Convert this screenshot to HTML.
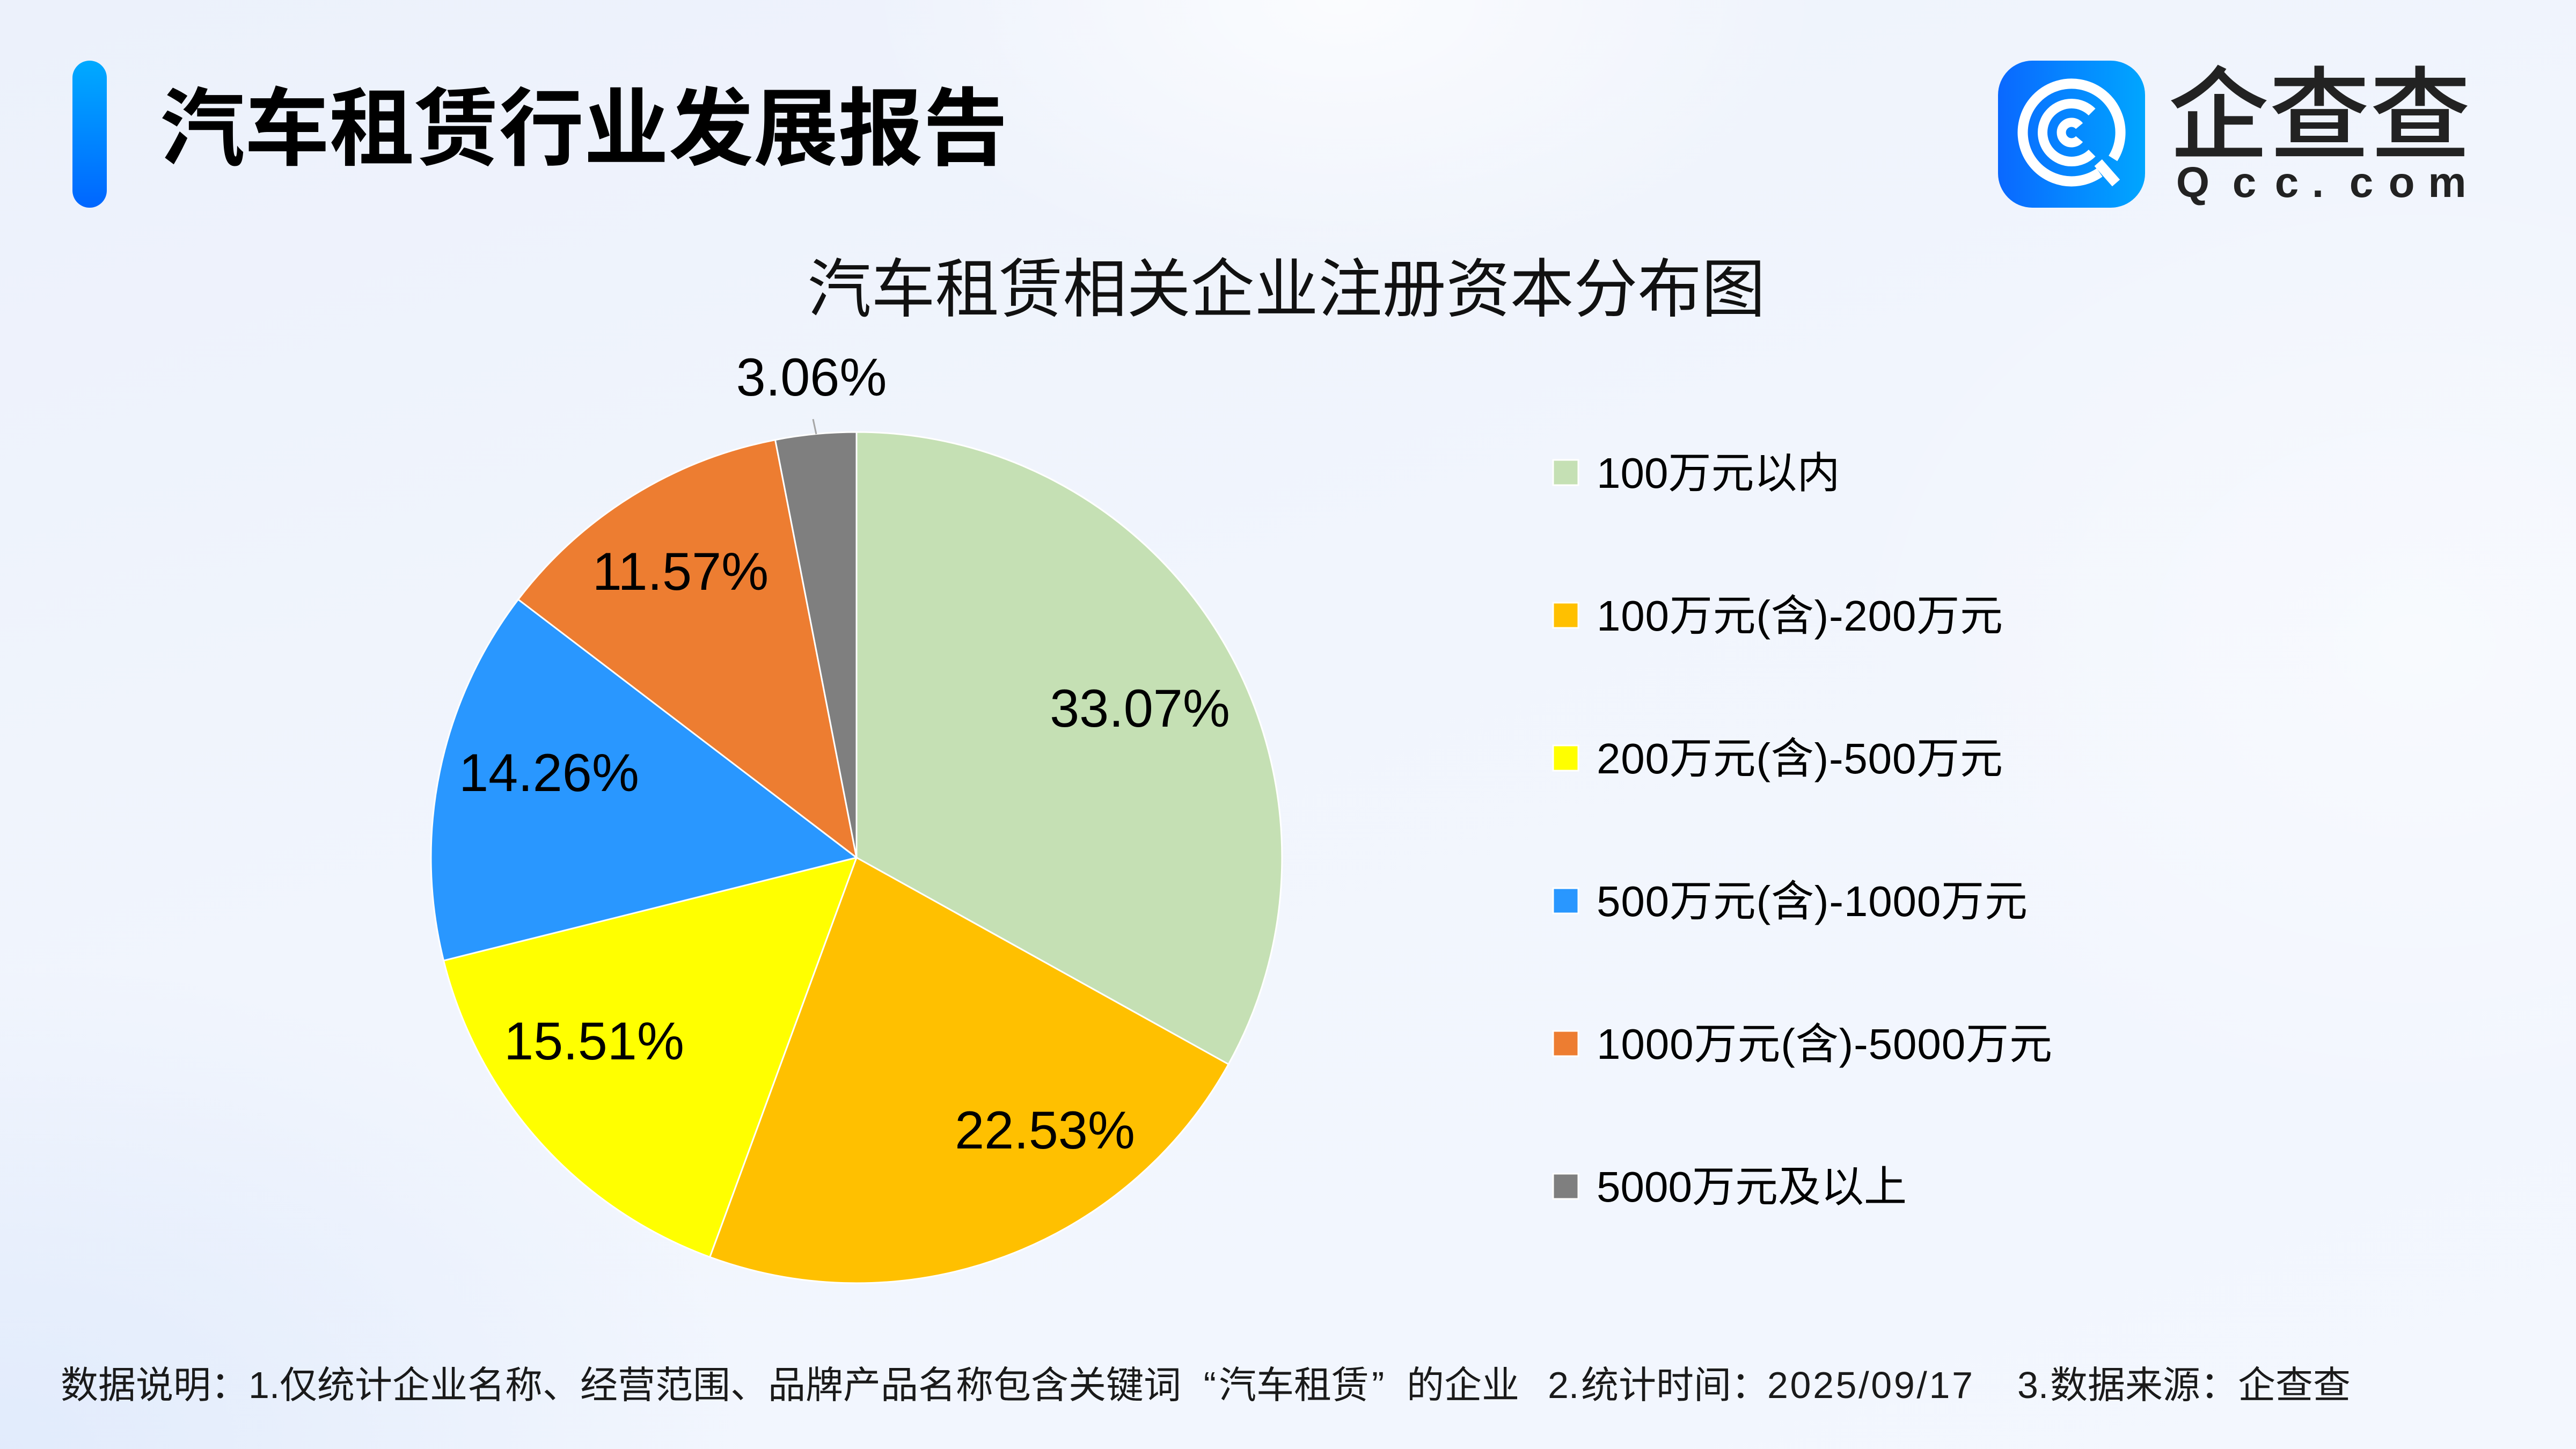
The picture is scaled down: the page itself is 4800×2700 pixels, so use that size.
<!DOCTYPE html>
<html>
<head>
<meta charset="utf-8">
<style>
  html, body { margin:0; padding:0; }
  body {
    width:4800px; height:2700px; overflow:hidden; position:relative;
    background:
      radial-gradient(ellipse 900px 520px at 2500px 0px, rgba(255,255,255,0.75), rgba(255,255,255,0) 100%),
      radial-gradient(ellipse 1100px 900px at 4500px 1200px, rgba(255,255,255,0.45), rgba(255,255,255,0) 100%),
      radial-gradient(ellipse 1400px 900px at 0px 2700px, rgba(205,222,250,0.45), rgba(205,222,250,0) 100%),
      linear-gradient(160deg, #ECF1FB 0%, #F1F5FD 45%, #F3F7FE 100%);
  }
  svg { position:absolute; left:0; top:0; }
  .cjk { font-family:"Noto Sans CJK SC","WenQuanYi Zen Hei",sans-serif; }
  .lat { font-family:"Liberation Sans","Noto Sans CJK SC",sans-serif; }
</style>
</head>
<body>
<svg width="4800" height="2700" viewBox="0 0 4800 2700" xmlns="http://www.w3.org/2000/svg">
  <defs>
    <linearGradient id="bar" x1="0" y1="0" x2="0" y2="1">
      <stop offset="0" stop-color="#00AAFF"/>
      <stop offset="1" stop-color="#0066FF"/>
    </linearGradient>
    <linearGradient id="icon" x1="0" y1="0" x2="1" y2="0">
      <stop offset="0" stop-color="#0A68FF"/>
      <stop offset="1" stop-color="#00A6FF"/>
    </linearGradient>
  </defs>

  <!-- Header -->
  <rect x="135" y="113" width="64" height="274" rx="32" ry="32" fill="url(#bar)"/>
  <text x="298" y="295" class="cjk" font-size="158" font-weight="700" fill="#000">汽车租赁行业发展报告</text>

  <!-- Logo icon -->
  <g transform="translate(3723,113)">
    <rect x="0" y="0" width="274" height="274" rx="64" ry="64" fill="url(#icon)"/>
    <path d="M189.2 208.5 A91 91 0 1 1 214.2 182.2" fill="none" stroke="#fff" stroke-width="19"/>
    <line x1="186.7" y1="190.2" x2="220" y2="228" stroke="#fff" stroke-width="19"/>
    <path d="M175.2 172.2 A54 54 0 1 1 175.2 95.8" fill="none" stroke="#fff" stroke-width="18"/>
    <path d="M151.6 146.2 A19 19 0 1 1 151.6 121.8" fill="none" stroke="#fff" stroke-width="17"/>
  </g>
  <!-- Logo text -->
  <text x="4040" y="281" class="cjk" font-size="188" font-weight="500" fill="#222">企查查</text>
  <g class="lat" font-size="80" font-weight="700" fill="#222" text-anchor="middle">
    <text x="4086" y="367">Q</text>
    <text x="4182" y="367">c</text>
    <text x="4261" y="367">c</text>
    <text x="4319" y="367">.</text>
    <text x="4400" y="367">c</text>
    <text x="4475" y="367">o</text>
    <text x="4560" y="367">m</text>
  </g>

  <!-- Chart title -->
  <text x="2397" y="580" class="cjk" font-size="119" fill="#111" text-anchor="middle">汽车租赁相关企业注册资本分布图</text>

  <!-- Pie -->
  <g stroke="#fff" stroke-width="3" stroke-linejoin="round">
    <path d="M1596 1598 L1596 805 A793 793 0 0 1 2289.1 1983.1 Z" fill="#C5E0B4"/>
    <path d="M1596 1598 L2289.1 1983.1 A793 793 0 0 1 1322.7 2342.4 Z" fill="#FFC000"/>
    <path d="M1596 1598 L1322.7 2342.4 A793 793 0 0 1 826.6 1789.9 Z" fill="#FFFF00"/>
    <path d="M1596 1598 L826.6 1789.9 A793 793 0 0 1 965.6 1116.9 Z" fill="#2997FF"/>
    <path d="M1596 1598 L965.6 1116.9 A793 793 0 0 1 1444.5 819.6 Z" fill="#ED7D31"/>
    <path d="M1596 1598 L1444.5 819.6 A793 793 0 0 1 1596 805 Z" fill="#7F7F7F"/>
  </g>
  <line x1="1515" y1="781" x2="1521" y2="809" stroke="#A6A6A6" stroke-width="3"/>

  <!-- Pie labels -->
  <g class="lat" font-size="99" fill="#000" text-anchor="middle">
    <text x="2124" y="1354">33.07%</text>
    <text x="1947" y="2140">22.53%</text>
    <text x="1107" y="1974">15.51%</text>
    <text x="1023" y="1474">14.26%</text>
    <text x="1268" y="1099">11.57%</text>
    <text x="1512" y="737">3.06%</text>
  </g>

  <!-- Legend -->
  <g stroke="#fff" stroke-width="3">
    <rect x="2894" y="857" width="47" height="47" fill="#C5E0B4"/>
    <rect x="2894" y="1123" width="47" height="47" fill="#FFC000"/>
    <rect x="2894" y="1389" width="47" height="47" fill="#FFFF00"/>
    <rect x="2894" y="1655" width="47" height="47" fill="#2997FF"/>
    <rect x="2894" y="1921" width="47" height="47" fill="#ED7D31"/>
    <rect x="2894" y="2187" width="47" height="47" fill="#7F7F7F"/>
  </g>
  <g class="lat" font-size="80" fill="#000">
    <text x="2975" y="909">100万元以内</text>
    <text x="2975" y="1175" textLength="757" lengthAdjust="spacing">100万元(含)-200万元</text>
    <text x="2975" y="1441" textLength="757" lengthAdjust="spacing">200万元(含)-500万元</text>
    <text x="2975" y="1707" textLength="803" lengthAdjust="spacing">500万元(含)-1000万元</text>
    <text x="2975" y="1973" textLength="849" lengthAdjust="spacing">1000万元(含)-5000万元</text>
    <text x="2975" y="2239">5000万元及以上</text>
  </g>

  <!-- Footer -->
  <g font-size="70" fill="#1a1a1a">
    <text x="113" y="2605" class="cjk">数据说明：</text>
    <text x="463" y="2605" class="lat">1.</text>
    <text x="521" y="2605" class="cjk">仅统计企业名称、经营范围、品牌产品名称包含关键词</text>
    <text x="2266" y="2605" class="lat" text-anchor="end">“</text>
    <text x="2271" y="2605" class="cjk">汽车租赁</text>
    <text x="2556" y="2605" class="lat">”</text>
    <text x="2621" y="2605" class="cjk">的企业</text>

    <text x="2884" y="2605" class="lat">2.</text>
    <text x="2946" y="2605" class="cjk">统计时间：</text>
    <text x="3293" y="2605" class="lat" textLength="383" lengthAdjust="spacing">2025/09/17</text>

    <text x="3759" y="2605" class="lat">3.</text>
    <text x="3820" y="2605" class="cjk">数据来源：企查查</text>
  </g>
</svg>
</body>
</html>
